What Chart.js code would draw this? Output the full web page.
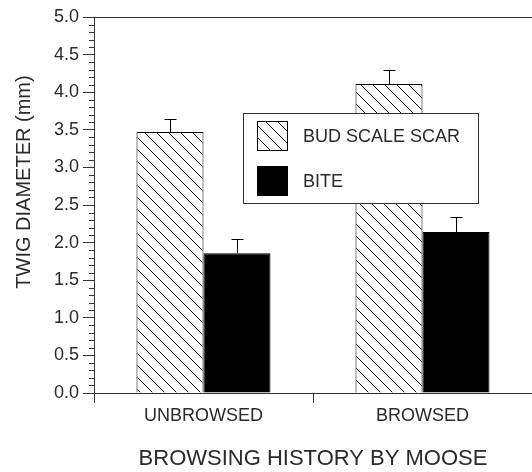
<!DOCTYPE html>
<html>
<head>
<meta charset="utf-8">
<script src="https://cdn.jsdelivr.net/npm/chart.js@4/dist/chart.umd.min.js"></script>
<style>
  html, body { margin: 0; padding: 0; background: #fff; }
</style>
</head>
<body>
<canvas id="twigChart" width="532" height="472"></canvas>
<script>
// data
const categories = ['UNBROWSED', 'BROWSED'];
const seriesNames = ['BUD SCALE SCAR', 'BITE'];
const budScaleScar = [3.47, 4.11];
const budScaleScarErr = [0.17, 0.19];
const bite = [1.86, 2.14];
const biteErr = [0.19, 0.20];
const yMin = 0, yMax = 5, yStep = 0.5, yMinorStep = 0.1;
const xTitle = 'BROWSING HISTORY BY MOOSE';
const yTitle = 'TWIG DIAMETER (mm)';

const FONT = '"Liberation Sans", Arial, sans-serif';
const INK = '#2a2a2a';

// diagonal hatch like the old plot
function makeHatch() {
    const s = 12;
    const c = document.createElement('canvas');
    c.width = s; c.height = s;
    const g = c.getContext('2d');
    g.fillStyle = '#fff';
    g.fillRect(0, 0, s, s);
    g.strokeStyle = '#000';
    g.lineWidth = 1;
    for (const k of [-s, 0, s]) {
        g.beginPath();
        g.moveTo(k - 1, -1);
        g.lineTo(k + s + 1, s + 1);
        g.stroke();
    }
    return g.createPattern(c, 'repeat');
}
const hatch = makeHatch();

const extras = {
    id: 'extras',
    afterDatasetsDraw(chart) {
        const { ctx, chartArea, scales: { y } } = chart;
        ctx.save();
        ctx.strokeStyle = '#000';
        ctx.lineWidth = 1;

        // error bars (upper only)
        chart.data.datasets.forEach((ds, i) => {
            const meta = chart.getDatasetMeta(i);
            meta.data.forEach((bar, j) => {
                const cx = Math.round(bar.x) + 0.5;
                const yTop = Math.round(y.getPixelForValue(ds.data[j] + ds.errors[j])) + 0.5;
                const yBar = y.getPixelForValue(ds.data[j]);
                ctx.beginPath();
                ctx.moveTo(cx, yBar);
                ctx.lineTo(cx, yTop);
                ctx.moveTo(cx - 6, yTop);
                ctx.lineTo(cx + 6, yTop);
                ctx.stroke();
            });
        });

        // minor ticks on the y axis
        ctx.strokeStyle = '#333';
        const n = Math.round((yMax - yMin) / yMinorStep);
        for (let i = 0; i <= n; i++) {
            if (i % 5 === 0) continue;
            const py = Math.round(y.getPixelForValue(yMin + i * yMinorStep)) + 0.5;
            ctx.beginPath();
            ctx.moveTo(chartArea.left - 5, py);
            ctx.lineTo(chartArea.left, py);
            ctx.stroke();
        }

        // top frame line
        const top = Math.round(chartArea.top) + 0.5;
        ctx.beginPath();
        ctx.moveTo(chartArea.left, top);
        ctx.lineTo(chart.width, top);
        ctx.stroke();

        // y title
        ctx.fillStyle = INK;
        ctx.font = '20px ' + FONT;
        ctx.textAlign = 'center';
        ctx.textBaseline = 'middle';
        ctx.translate(24, 182);
        ctx.rotate(-Math.PI / 2);
        ctx.fillText(yTitle, 0, 0);
        ctx.restore();

        // legend box inside the plot
        ctx.save();
        const lx = 243, ly = 113, lw = 235, lh = 90;
        ctx.fillStyle = '#fff';
        ctx.fillRect(lx, ly, lw, lh);
        ctx.strokeStyle = '#333';
        ctx.strokeRect(lx + 0.5, ly + 0.5, lw, lh);
        ctx.font = '18px ' + FONT;
        ctx.textBaseline = 'middle';
        chart.data.datasets.forEach((ds, i) => {
            const sy = ly + 8 + i * 45;
            ctx.fillStyle = ds.backgroundColor;
            ctx.fillRect(lx + 14, sy, 31, 30);
            ctx.strokeStyle = '#000';
            ctx.strokeRect(lx + 14.5, sy + 0.5, 30, 29);
            ctx.fillStyle = INK;
            ctx.fillText(ds.label, lx + 60, sy + 16);
        });
        ctx.restore();
    }
};

new Chart(document.getElementById('twigChart'), {
    type: 'bar',
    data: {
        labels: categories,
        datasets: [
            {
                label: seriesNames[0],
                data: budScaleScar,
                errors: budScaleScarErr,
                backgroundColor: hatch,
                borderColor: '#000',
                borderWidth: 1
            },
            {
                label: seriesNames[1],
                data: bite,
                errors: biteErr,
                backgroundColor: '#000',
                borderColor: '#000',
                borderWidth: 1
            }
        ]
    },
    options: {
        responsive: false,
        animation: false,
        layout: { padding: { top: 17, right: 0, left: 0, bottom: 0 } },
        plugins: {
            legend: { display: false },
            tooltip: { enabled: false }
        },
        datasets: {
            bar: { categoryPercentage: 0.612, barPercentage: 1 }
        },
        scales: {
            x: {
                afterFit: (s) => { s.height = 79; },
                grid: { drawOnChartArea: false, tickLength: 10, color: '#333' },
                border: { color: '#333' },
                ticks: { color: INK, font: { family: FONT, size: 18 }, padding: 2 },
                title: {
                    display: true,
                    text: xTitle,
                    color: INK,
                    font: { family: FONT, size: 22 },
                    padding: { top: 0, bottom: 0 }
                }
            },
            y: {
                min: yMin,
                max: yMax,
                afterFit: (s) => { s.width = 94; },
                grid: { drawOnChartArea: false, tickLength: 11, color: '#333' },
                border: { color: '#333' },
                ticks: {
                    stepSize: yStep,
                    padding: 4,
                    color: INK,
                    font: { family: FONT, size: 18 },
                    callback: (v) => Number(v).toFixed(1)
                }
            }
        }
    },
    plugins: [extras]
});
</script>
</body>
</html>
